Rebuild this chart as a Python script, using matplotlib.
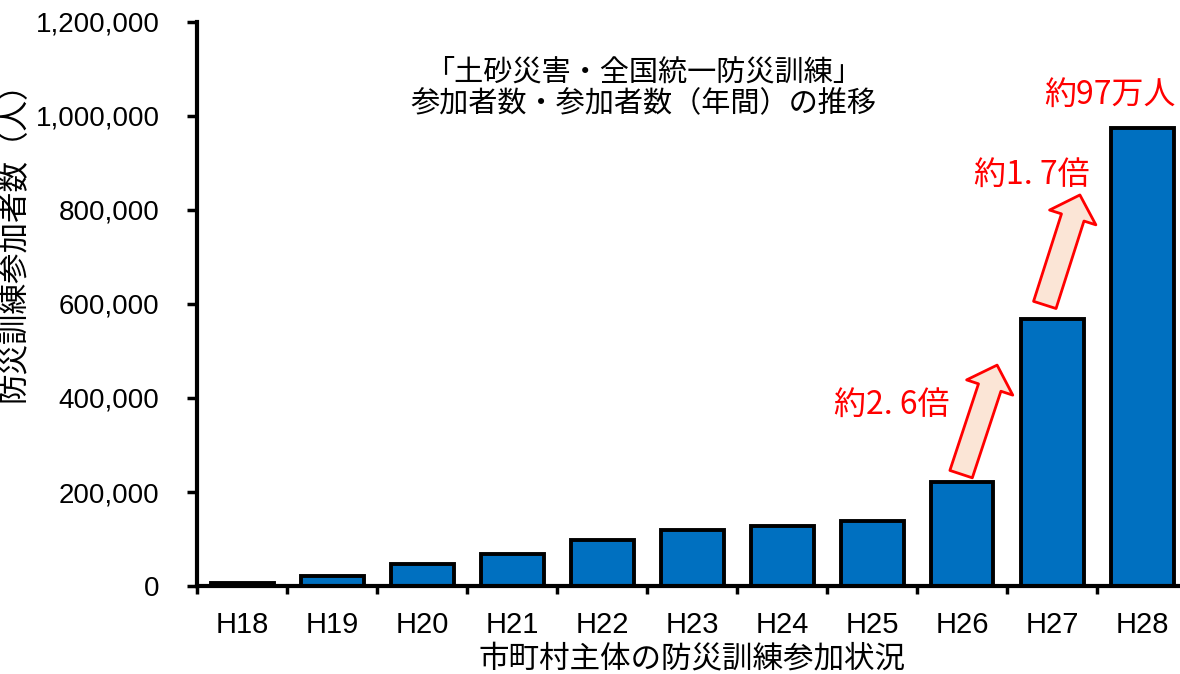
import matplotlib
matplotlib.use("Agg")
import matplotlib.pyplot as plt
from matplotlib.patches import FancyArrowPatch, ArrowStyle
from matplotlib.ticker import FuncFormatter, FixedLocator
import numpy as np

years = ["H18", "H19", "H20", "H21", "H22", "H23", "H24", "H25", "H26", "H27", "H28"]
participants = [6000, 21000, 46000, 68000, 97000, 119000, 127000, 138000, 222000, 569000, 975000]

title_lines = ["「土砂災害・全国統一防災訓練」", "参加者数・参加者数（年間）の推移"]
ratio_labels = ["約2. 6倍", "約1. 7倍"]
total_label = "約97万人"

JP = ["Noto Sans CJK JP", "DejaVu Sans"]
LAT = ["Liberation Sans", "DejaVu Sans"]
RED = "#FF0000"

fig = plt.figure(figsize=(11.8, 6.74), dpi=100)
ax = fig.add_axes([197 / 1180, 88 / 674, 990 / 1180, 564 / 674])

x = np.arange(len(years))
ax.bar(x, participants, width=0.7, color="#0070C0", edgecolor="black", linewidth=2.8, zorder=2)

ax.set_xlim(-0.5, len(years) - 0.5)
ax.set_ylim(0, 1200000)
ax.set_yticks(np.arange(0, 1200001, 200000))
ax.yaxis.set_major_formatter(FuncFormatter(lambda v, p: f"{int(v):,}"))
ax.set_xticks(x)
ax.set_xticklabels(years)
ax.xaxis.set_minor_locator(FixedLocator(np.arange(-0.5, len(years), 1.0)))

for s in ["top", "right"]:
    ax.spines[s].set_visible(False)
for s in ["left", "bottom"]:
    ax.spines[s].set_linewidth(3)

ax.tick_params(axis="y", direction="out", length=7, width=2.5, pad=20, labelsize=20)
ax.tick_params(axis="x", which="major", length=0, pad=18, labelsize=21)
ax.tick_params(axis="x", which="minor", direction="out", length=6, width=2.5)
for lbl in ax.get_xticklabels() + ax.get_yticklabels():
    lbl.set_fontfamily(LAT)

ax.set_xlabel("市町村主体の防災訓練参加状況", family=JP, fontsize=22, labelpad=3)
fig.text(14 / 1180, 1 - 234 / 674, "防災訓練参加者数（人）", family=JP, fontsize=22,
         rotation=90, ha="center", va="center")

# chart heading inside the plot area
ax.text(0.4505, 0.911, title_lines[0], transform=ax.transAxes, family=JP,
        fontsize=21, ha="center", va="center")
ax.text(0.4505, 0.855, title_lines[1], transform=ax.transAxes, family=JP,
        fontsize=21, ha="center", va="center")

# growth arrows between the last three years
arrow_tails = [(7.99, 238000), (8.92, 598000)]
arrow_tips = [(8.39, 470000), (9.31, 832000)]
style = ArrowStyle.Simple(head_length=17, head_width=35, tail_width=17)
for tail, tip in zip(arrow_tails, arrow_tips):
    ax.add_patch(FancyArrowPatch(tail, tip, arrowstyle=style, mutation_scale=1,
                                 shrinkA=0, shrinkB=0, facecolor="#FBE5D6",
                                 edgecolor=RED, linewidth=2, zorder=3))

ratio_pos = [(7.22, 385000), (8.78, 874000)]
for (tx, ty), s in zip(ratio_pos, ratio_labels):
    ax.text(tx, ty, s, color=RED, family=JP, fontsize=23, ha="center", va="center")
ax.text(9.64, 1046000, total_label, color=RED, family=JP, fontsize=23,
        ha="center", va="center", clip_on=False)

fig.savefig("out.png", dpi=100)
